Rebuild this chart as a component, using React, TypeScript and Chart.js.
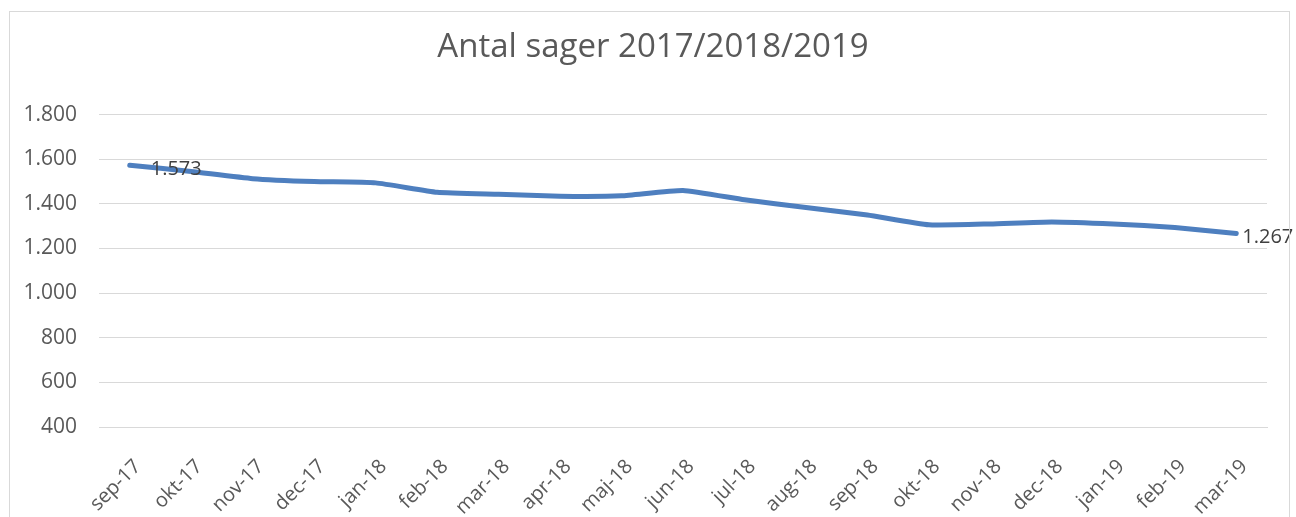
import React, { useEffect, useRef } from "react";
import { Chart, registerables } from "chart.js";

Chart.register(...registerables);

const categories = [
  "sep-17", "okt-17", "nov-17", "dec-17", "jan-18", "feb-18", "mar-18",
  "apr-18", "maj-18", "jun-18", "jul-18", "aug-18", "sep-18", "okt-18",
  "nov-18", "dec-18", "jan-19", "feb-19", "mar-19",
];

const antalSager = [
  1573, 1545, 1513, 1500, 1494, 1452, 1443, 1434, 1436, 1460,
  1418, 1384, 1350, 1306, 1310, 1319, 1310, 1294, 1267,
];

const yTicks = [400, 600, 800, 1000, 1200, 1400, 1600, 1800];

const labelledIndices = [0, 18];

const title = "Antal sager 2017/2018/2019";

const FONT = "'Open Sans', 'Liberation Sans', sans-serif";

const fmt = (v: number) =>
  String(Math.round(v)).replace(/\B(?=(\d{3})+(?!\d))/g, ".");

const dataLabelPlugin = {
  id: "endLabels",
  afterDraw(chart: any) {
    const meta = chart.getDatasetMeta(0);
    const ctx = chart.ctx;
    ctx.save();
    ctx.font = `20px ${FONT}`;
    ctx.fillStyle = "#404040";
    ctx.textAlign = "left";
    ctx.textBaseline = "middle";
    labelledIndices.forEach((i, k) => {
      const pt = meta.data[i];
      if (!pt) return;
      const dx = k === 0 ? 21 : 6;
      const dy = 4;
      ctx.fillText(fmt(antalSager[i]), pt.x + dx, pt.y + dy);
    });
    ctx.restore();
  },
};

export default function App() {
  const ref = useRef<HTMLCanvasElement | null>(null);

  useEffect(() => {
    if (!ref.current) return;
    const chart = new Chart(ref.current, {
      type: "line",
      data: {
        labels: categories,
        datasets: [
          {
            label: "Antal sager",
            data: antalSager,
            borderColor: "#4e7fbf",
            backgroundColor: "#4e7fbf",
            borderWidth: 5,
            pointRadius: 0,
            tension: 0.15,
            borderJoinStyle: "round",
            borderCapStyle: "round",
            fill: false,
          },
        ],
      },
      options: {
        animation: false,
        responsive: false,
        maintainAspectRatio: false,
        layout: { padding: 0 },
        plugins: {
          legend: { display: false },
          tooltip: { enabled: false },
          title: {
            display: true,
            text: title,
            color: "#595959",
            font: { family: FONT, size: 33, weight: "normal", lineHeight: 1.2 },
            padding: { top: 16, bottom: 47 },
            align: "center",
          },
        },
        scales: {
          x: {
            offset: true,
            grid: { display: false, drawTicks: false },
            border: { display: true, color: "#d9d9d9", width: 1 },
            ticks: {
              color: "#595959",
              font: { family: FONT, size: 20 },
              minRotation: 45,
              maxRotation: 45,
              padding: 28,
              labelOffset: 8,
              autoSkip: false,
            },
            afterFit: (s: any) => {
              s.height = 125;
            },
          },
          y: {
            min: yTicks[0],
            max: yTicks[yTicks.length - 1],
            afterBuildTicks: (s: any) => {
              s.ticks = yTicks.map((v) => ({ value: v }));
            },
            grid: { color: "#d9d9d9", lineWidth: 1, drawTicks: false },
            border: { display: false },
            ticks: {
              color: "#595959",
              font: { family: FONT, size: 21 },
              padding: 22,
              callback: (v: any) => fmt(Number(v)),
            },
            afterFit: (s: any) => {
              s.width = 89;
            },
          },
          yRight: {
            position: "right",
            display: true,
            min: yTicks[0],
            max: yTicks[yTicks.length - 1],
            grid: { display: false, drawTicks: false },
            border: { display: false },
            ticks: { display: false },
            afterFit: (s: any) => {
              s.width = 29;
            },
          },
        },
      },
      plugins: [dataLabelPlugin],
    });
    return () => chart.destroy();
  }, []);

  return (
    <div
      style={{
        position: "fixed",
        left: 0,
        top: 0,
        width: 1296,
        height: 517,
        overflow: "hidden",
        background: "#fff",
      }}
    >
      <canvas
        ref={ref}
        width={1286}
        height={540}
        style={{ display: "block", position: "absolute", left: 10, top: 12 }}
      />
      <div
        style={{
          position: "absolute",
          left: 9,
          top: 11,
          width: 1279,
          height: 540,
          border: "1px solid #d9d9d9",
          pointerEvents: "none",
        }}
      />
    </div>
  );
}
